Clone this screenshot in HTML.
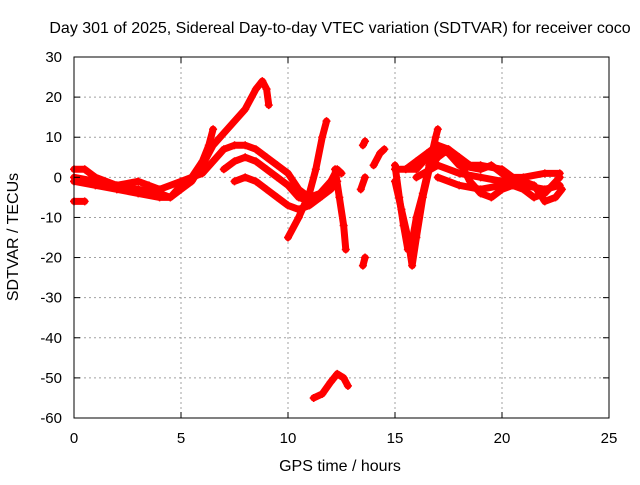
<!DOCTYPE html>
<html><head><meta charset="utf-8"><style>
body{margin:0;background:#fff}
svg text{font-family:"Liberation Sans",sans-serif;font-size:15px;fill:#000}
svg text.big{font-size:16px}
</style></head><body>
<svg id="chart" width="640" height="480">
<text class="big" x="340" y="33" text-anchor="middle">Day 301 of 2025, Sidereal Day-to-day VTEC variation (SDTVAR) for receiver coco</text>
<text class="big" x="340" y="471" text-anchor="middle">GPS time / hours</text>
<text class="big" transform="translate(18,237) rotate(-90)" text-anchor="middle">SDTVAR / TECUs</text>
<g id="grid"></g><g id="marks"></g>
<rect x="74" y="57" width="535" height="361" fill="none" stroke="#000"/>
<g id="ticks"></g>
</svg>
<script>
const xTicks=[0,5,10,15,20,25];
const yTicks=[30,20,10,0,-10,-20,-30,-40,-50,-60];
const trackA=[[0,2],[0.5,2],[1,0],[2,-2],[3,-3],[4,-4],[4.5,-5],[5,-3],[5.5,-1],[6,3],[6.5,8],[7,11],[7.5,14],[8,17],[8.5,22],[8.8,24],[9,22],[9.1,18]];
const trackB=[[0,-1],[1,-2],[2,-3],[3,-4],[4,-5],[4.5,-5],[5,-2],[5.5,0],[6,4],[6.3,8],[6.5,12]];
const trackC=[[0,0],[1,-1],[2,-2],[3,-1],[3.5,-2],[4,-3],[5,-1],[6,1],[6.5,4],[7,7],[7.5,8],[8,8],[8.5,7],[9,5],[9.5,3],[10,1],[10.5,-3],[11,-5],[11.5,-4],[12,-1],[12.3,2],[12.5,1]];
const trackD=[[0,-6],[0.5,-6]];
const trackE=[[7,2],[7.5,4],[8,5],[8.5,4],[9,2],[9.5,0],[10,-2],[10.5,-5],[11,-6],[11.5,-5],[12,-2],[12.2,0]];
const trackF=[[7.5,-1],[8,0],[8.5,-1],[9,-3],[9.5,-5],[10,-7],[10.5,-8],[11,-7],[11.5,-5],[12,-3],[12.3,-1]];
const trackG=[[10,-15],[10.5,-10],[11,-4],[11.3,2],[11.6,10],[11.8,14]];
const trackH=[[12.2,2],[12.4,-5],[12.6,-12],[12.7,-18]];
const trackI=[[11.2,-55],[11.6,-54],[12,-51],[12.3,-49],[12.6,-50],[12.8,-52]];
const trackJ1=[[13.5,-22],[13.6,-20]];
const trackJ2=[[13.5,8],[13.6,9]];
const trackJ3=[[13.4,-3],[13.6,0]];
const trackJ4=[[14,3],[14.3,6],[14.5,7]];
const trackK=[[15,3],[15.2,-5],[15.4,-12],[15.6,-18],[15.8,-16],[16,-10],[16.3,-4],[16.6,3],[16.9,10],[17,12]];
const trackL=[[15,-1],[15.3,-8],[15.6,-15],[15.8,-22],[16,-15],[16.3,-5],[16.6,2],[17,5],[17.5,7],[18,4],[18.5,-1],[19,-4],[19.5,-5],[20,-3],[20.5,-2]];
const trackM=[[15,2],[16,2],[16.5,5],[17,7],[17.5,6],[18,3],[19,2],[19.5,3],[20,1],[20.5,-1],[21,-2],[22,-3],[22.7,-2]];
const trackN=[[16,0],[17,3],[18,1],[19,0],[20,-1],[21,-3],[21.5,-5],[22,-4],[22.7,0]];
const trackO=[[17,0],[18,-2],[19,-3],[20,-2],[21,-1],[21.5,-2],[22,-6],[22.5,-5],[22.8,-3]];
const trackP=[[15.5,2],[16,4],[16.5,6],[17,8],[17.5,7],[18,5],[18.5,3],[19,3],[20,2],[20.5,0],[21,0],[22,1],[22.7,1]];
const tracks=[trackA,trackB,trackC,trackD,trackE,trackF,trackG,trackH,trackI,trackJ1,trackJ2,trackJ3,trackJ4,trackK,trackL,trackM,trackN,trackO,trackP];
const X=v=>74+v*535/25, Y=v=>57+(30-v)*361/90;
const NS="http://www.w3.org/2000/svg";
const grid=document.getElementById('grid'),ticks=document.getElementById('ticks'),marks=document.getElementById('marks');
function mk(t,a,p){const e=document.createElementNS(NS,t);for(const k in a)e.setAttribute(k,a[k]);p.appendChild(e);return e;}
xTicks.forEach(v=>{
 if(v>0&&v<25){const g=mk('line',{x1:X(v),x2:X(v),y1:57,y2:418,stroke:'#a0a0a0','stroke-dasharray':'2,3'},grid);
 
 }
 mk('line',{x1:X(v),x2:X(v),y1:418,y2:412,stroke:'#000'},ticks);
 mk('line',{x1:X(v),x2:X(v),y1:57,y2:63,stroke:'#000'},ticks);
 const t=mk('text',{x:X(v),y:443,'text-anchor':'middle'},ticks);t.textContent=v;
 
 
});
yTicks.forEach(v=>{
 if(v<30&&v>-60){const g=mk('line',{x1:74,x2:609,y1:Y(v),y2:Y(v),stroke:'#a0a0a0','stroke-dasharray':'2,3'},grid);
 
 }
 mk('line',{x1:74,x2:80,y1:Y(v),y2:Y(v),stroke:'#000'},ticks);
 mk('line',{x1:609,x2:603,y1:Y(v),y2:Y(v),stroke:'#000'},ticks);
 const t=mk('text',{x:62,y:Y(v)+5,'text-anchor':'end'},ticks);t.textContent=v;
 
 
});
tracks.forEach(tr=>{
 const p=mk('polyline',{points:tr.map(d=>X(d[0])+','+Y(d[1])).join(' '),fill:'none',stroke:'#ff0000','stroke-width':7,'stroke-linejoin':'round','stroke-linecap':'round'},marks);
 
 
 tr.forEach(d=>{
  const m=mk('path',{d:`M${X(d[0])-4},${Y(d[1])}h8M${X(d[0])},${Y(d[1])-4}v8`,stroke:'#ff0000','stroke-width':1.5},marks);
  
  
 });
});
</script>
</body></html>
